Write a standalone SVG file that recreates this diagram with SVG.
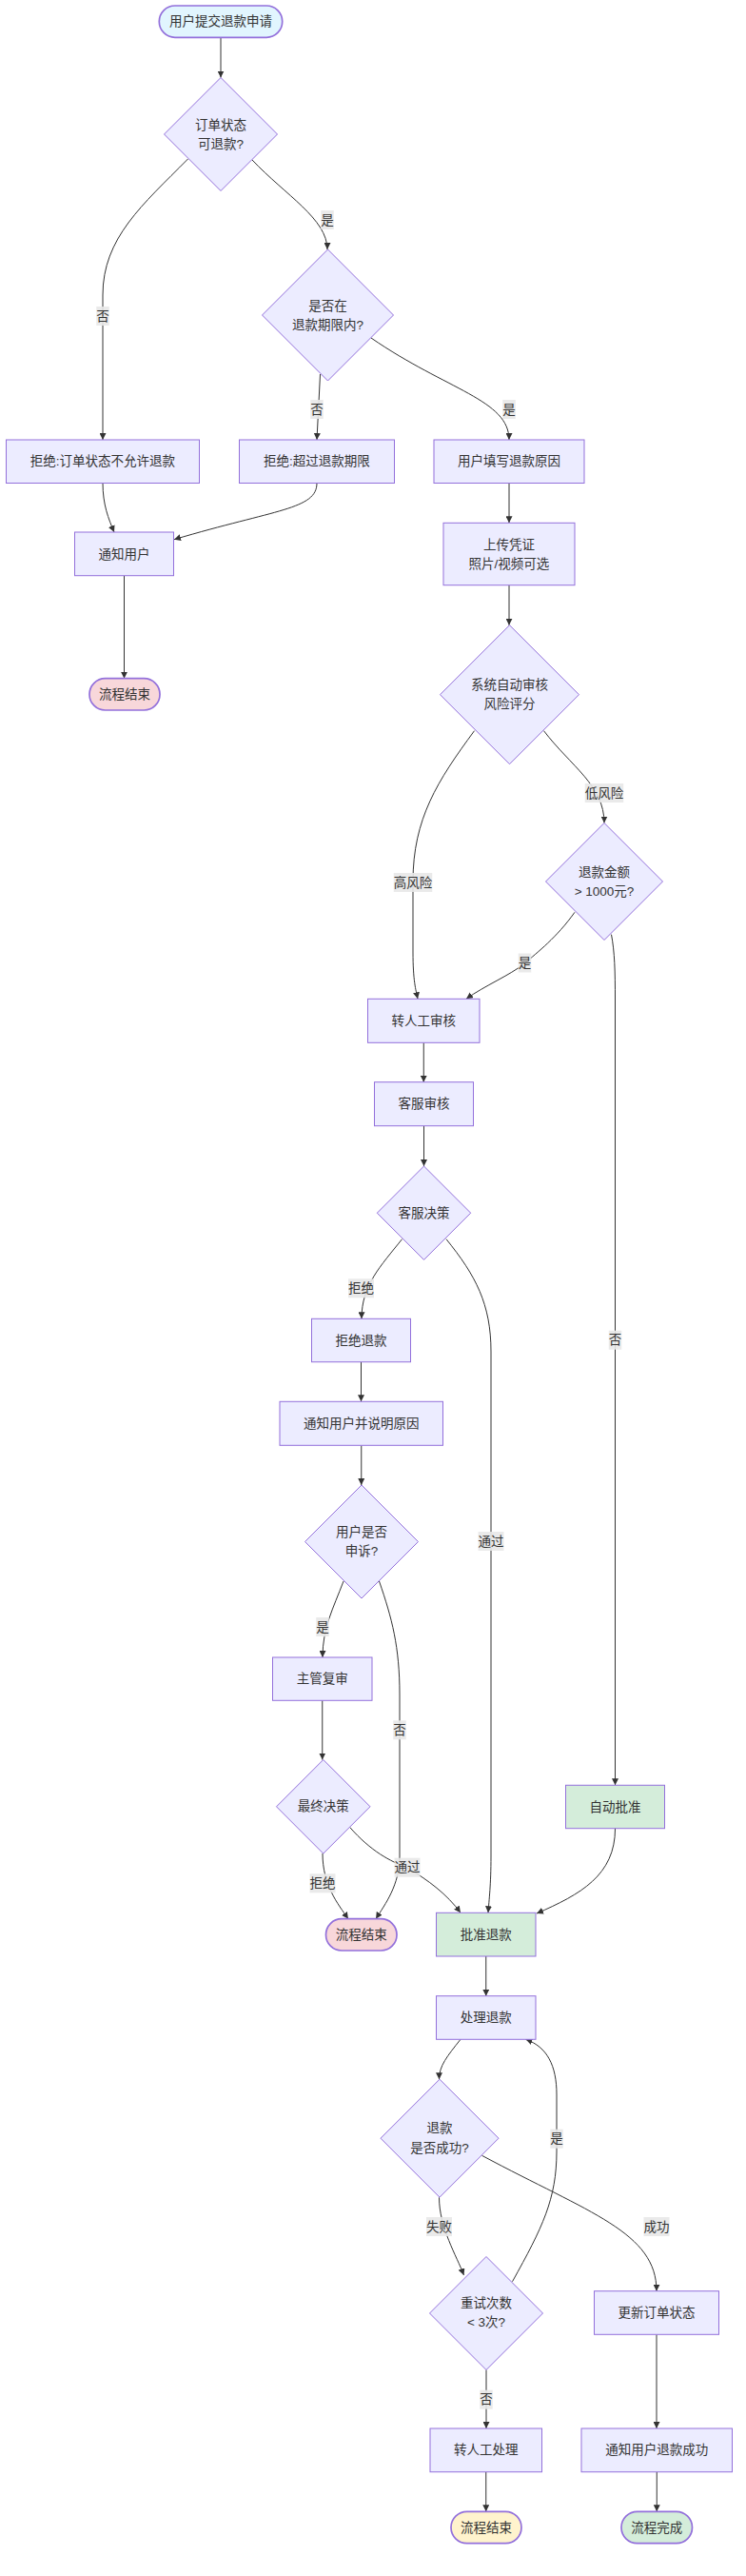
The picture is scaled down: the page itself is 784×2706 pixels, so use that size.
<svg xmlns="http://www.w3.org/2000/svg" width="784" height="2706" viewBox="0 0 784 2706">
<style>
  text { font-family: "Liberation Sans", "Noto Sans CJK SC", sans-serif; font-size: 13.5px; fill: #333; text-anchor: middle; dominant-baseline: central; }
  .box { fill: #ECECFF; stroke: #9370DB; stroke-width: 1; }
  .dia { fill: #ECECFF; stroke: #9370DB; stroke-width: 1; }
  .pill { stroke: #9370DB; stroke-width: 1.7; }
  .start { fill: #e1f5fe; }
  .endr { fill: #f8d7da; }
  .endy { fill: #fff3cd; }
  .endg { fill: #d4edda; }
  .ok { fill: #d4edda; stroke: #9370DB; stroke-width: 1; }
  .edge { fill: none; stroke: #333; stroke-width: 1; marker-end: url(#arrow); }
  .lbl { fill: #e8e8e8; opacity: 0.9; }
</style>
<defs>
  <marker id="arrow" viewBox="0 0 10 10" refX="10" refY="5" markerWidth="7" markerHeight="7" markerUnits="userSpaceOnUse" orient="auto">
    <path d="M0,0 L10,5 L0,10 z" fill="#333"/>
  </marker>
</defs>
<rect width="784" height="2706" fill="#ffffff"/>

<g id="edges">
  <path class="edge" d="M232,39.3 L232,81.5"/>
  <path class="edge" d="M197.5,167 C150,215 108,250 108,310 L108,462"/>
  <path class="edge" d="M265,168 C300,205 344,230 344,262"/>
  <path class="edge" d="M336.5,393 L333,462"/>
  <path class="edge" d="M390,355 C470,410 535,420 535,462"/>
  <path class="edge" d="M108,507.5 C108,530 114,545 120,559"/>
  <path class="edge" d="M333,507.5 C333,535 290,535 183,566.7"/>
  <path class="edge" d="M130.5,604.7 L130.5,712.7"/>
  <path class="edge" d="M535,507.5 L535,549.3"/>
  <path class="edge" d="M535,614.7 L535,656.7"/>
  <path class="edge" d="M571.5,767.7 C600,805 635,825 635,864.5"/>
  <path class="edge" d="M498.5,767.7 C460,820 434,860 434,926 L434,1000 C434,1030 437,1040 439,1049.3"/>
  <path class="edge" d="M604,958.3 C585,985 565,1000 551.5,1012 C535,1025 510,1035 490,1049.3"/>
  <path class="edge" d="M642.5,981.7 C646,1000 646.5,1020 646.5,1050 L646.5,1875.3"/>
  <path class="edge" d="M445.25,1095.3 L445.25,1136.7"/>
  <path class="edge" d="M445.5,1182.7 L445.5,1225"/>
  <path class="edge" d="M422.5,1301.7 C400,1330 380,1350 380,1385.3"/>
  <path class="edge" d="M469,1301.7 C500,1340 516,1370 516,1420 L516,1950 C516,1980 514,1995 513,2009.3"/>
  <path class="edge" d="M379.5,1430.7 L379.5,1472.3"/>
  <path class="edge" d="M379.75,1518.3 L379.75,1560"/>
  <path class="edge" d="M361,1661 C350,1690 339,1710 339,1741"/>
  <path class="edge" d="M398.5,1661 C412,1700 420,1730 420,1780 L420,1950 C420,1980 405,2000 395,2015.7"/>
  <path class="edge" d="M338.75,1786.3 L338.75,1848.5"/>
  <path class="edge" d="M339,1947 C339,1980 355,2000 366,2015.7"/>
  <path class="edge" d="M367.5,1919.3 C390,1945 410,1955 428,1962 C450,1975 470,1990 484,2009.3"/>
  <path class="edge" d="M646.5,1920.7 C646.5,1970 610,1990 564,2010"/>
  <path class="edge" d="M510.75,2055 L510.75,2096.7"/>
  <path class="edge" d="M484,2142.3 C470,2160 461.5,2170 461.5,2184.2"/>
  <path class="edge" d="M461.5,2308.2 C461.5,2340 480,2370 487.5,2390"/>
  <path class="edge" d="M506.5,2264.3 C620,2325 690,2345 690,2406.7"/>
  <path class="edge" d="M538.5,2396.7 C570,2340 585,2310 585,2260 L585,2200 C585,2170 575,2150 552.5,2142.3"/>
  <path class="edge" d="M511,2489.5 L511,2551"/>
  <path class="edge" d="M690,2452.3 L690,2551"/>
  <path class="edge" d="M510.75,2596.7 L510.75,2638.3"/>
  <path class="edge" d="M690.25,2596.7 L690.25,2638.3"/>
</g>

<g id="edge-labels">
  <rect class="lbl" x="101.25" y="322" width="13.5" height="20"/><text x="108" y="332">否</text>
  <rect class="lbl" x="337.25" y="221" width="13.5" height="20"/><text x="344" y="231">是</text>
  <rect class="lbl" x="326.25" y="420" width="13.5" height="20"/><text x="333" y="430">否</text>
  <rect class="lbl" x="528.25" y="420" width="13.5" height="20"/><text x="535" y="430">是</text>
  <rect class="lbl" x="614.75" y="823" width="40.5" height="20"/><text x="635" y="833">低风险</text>
  <rect class="lbl" x="413.75" y="917" width="40.5" height="20"/><text x="434" y="927">高风险</text>
  <rect class="lbl" x="544.75" y="1001.5" width="13.5" height="20"/><text x="551.5" y="1011.5">是</text>
  <rect class="lbl" x="639.75" y="1397.7" width="13.5" height="20"/><text x="646.5" y="1407.7">否</text>
  <rect class="lbl" x="366" y="1343.3" width="27" height="20"/><text x="379.5" y="1353.3">拒绝</text>
  <rect class="lbl" x="502.5" y="1609" width="27" height="20"/><text x="516" y="1619">通过</text>
  <rect class="lbl" x="332.25" y="1699" width="13.5" height="20"/><text x="339" y="1709">是</text>
  <rect class="lbl" x="413.25" y="1807.3" width="13.5" height="20"/><text x="420" y="1817.3">否</text>
  <rect class="lbl" x="325.5" y="1968.3" width="27" height="20"/><text x="339" y="1978.3">拒绝</text>
  <rect class="lbl" x="414.5" y="1951.7" width="27" height="20"/><text x="428" y="1961.7">通过</text>
  <rect class="lbl" x="578.25" y="2236.7" width="13.5" height="20"/><text x="585" y="2246.7">是</text>
  <rect class="lbl" x="448" y="2329" width="27" height="20"/><text x="461.5" y="2339">失败</text>
  <rect class="lbl" x="676.5" y="2329" width="27" height="20"/><text x="690" y="2339">成功</text>
  <rect class="lbl" x="504.25" y="2510.7" width="13.5" height="20"/><text x="511" y="2520.7">否</text>
</g>

<g id="n-start"><rect class="pill start" x="167.3" y="6" width="129.4" height="33.3" rx="16.6"/><text x="232" y="22.7">用户提交退款申请</text></g>
<g id="n-check-status"><polygon class="dia" points="232,81.5 291.5,141 232,200.5 172.5,141"/><text x="232" y="131">订单状态</text><text x="232" y="151">可退款?</text></g>
<g id="n-check-period"><polygon class="dia" points="344.5,262 413.5,331 344.5,400 275.5,331"/><text x="344.5" y="321">是否在</text><text x="344.5" y="341">退款期限内?</text></g>
<g id="n-reject-status"><rect class="box" x="6.5" y="462" width="203" height="45.5"/><text x="108" y="484.7">拒绝:订单状态不允许退款</text></g>
<g id="n-reject-period"><rect class="box" x="251.5" y="462" width="163" height="45.5"/><text x="333" y="484.7">拒绝:超过退款期限</text></g>
<g id="n-fill-reason"><rect class="box" x="456" y="462" width="158" height="45.5"/><text x="535" y="484.7">用户填写退款原因</text></g>
<g id="n-notify"><rect class="box" x="78.5" y="559" width="104" height="45.7"/><text x="130.5" y="582">通知用户</text></g>
<g id="n-end1"><rect class="pill endr" x="94" y="712.7" width="74" height="33.3" rx="16.6"/><text x="131" y="729.4">流程结束</text></g>
<g id="n-upload"><rect class="box" x="466" y="549.3" width="138" height="65.4"/><text x="535" y="572">上传凭证</text><text x="535" y="592">照片/视频可选</text></g>
<g id="n-auto-review"><polygon class="dia" points="535.5,656.7 608.5,729.7 535.5,802.7 462.5,729.7"/><text x="535.5" y="719.7">系统自动审核</text><text x="535.5" y="739.7">风险评分</text></g>
<g id="n-amount"><polygon class="dia" points="635,864.5 696.5,926 635,987.5 573.5,926"/><text x="635" y="916">退款金额</text><text x="635" y="936">&gt; 1000元?</text></g>
<g id="n-manual"><rect class="box" x="386.5" y="1049.3" width="117.5" height="46"/><text x="445.25" y="1072.3">转人工审核</text></g>
<g id="n-cs-review"><rect class="box" x="393.5" y="1136.7" width="104" height="46"/><text x="445.5" y="1159.7">客服审核</text></g>
<g id="n-cs-decision"><polygon class="dia" points="445.5,1225 494.7,1274.2 445.5,1323.4 396.3,1274.2"/><text x="445.5" y="1274.2">客服决策</text></g>
<g id="n-reject"><rect class="box" x="327.5" y="1385.3" width="104" height="45.4"/><text x="379.5" y="1408">拒绝退款</text></g>
<g id="n-notify-reason"><rect class="box" x="294" y="1472.3" width="171.5" height="46"/><text x="379.75" y="1495.3">通知用户并说明原因</text></g>
<g id="n-appeal"><polygon class="dia" points="380,1560 439.5,1619.5 380,1679 320.5,1619.5"/><text x="380" y="1609.5">用户是否</text><text x="380" y="1629.5">申诉?</text></g>
<g id="n-supervisor"><rect class="box" x="286.5" y="1741" width="104.5" height="45.3"/><text x="338.75" y="1763.7">主管复审</text></g>
<g id="n-final"><polygon class="dia" points="339.75,1848.5 389,1897.8 339.75,1947.1 290.5,1897.8"/><text x="339.75" y="1897.8">最终决策</text></g>
<g id="n-end2"><rect class="pill endr" x="342.5" y="2015.7" width="74.5" height="33.3" rx="16.6"/><text x="379.75" y="2032.4">流程结束</text></g>
<g id="n-auto-approve"><rect class="ok" x="594.5" y="1875.3" width="104" height="45.4"/><text x="646.5" y="1898">自动批准</text></g>
<g id="n-approve"><rect class="ok" x="458.5" y="2009.3" width="104.5" height="45.7"/><text x="510.75" y="2032.2">批准退款</text></g>
<g id="n-process"><rect class="box" x="458.5" y="2096.7" width="104.5" height="45.6"/><text x="510.75" y="2119.5">处理退款</text></g>
<g id="n-success"><polygon class="dia" points="462,2184.2 524,2246.2 462,2308.2 400,2246.2"/><text x="462" y="2235.5">退款</text><text x="462" y="2256.5">是否成功?</text></g>
<g id="n-retry"><polygon class="dia" points="511,2370.5 570.5,2430 511,2489.5 451.5,2430"/><text x="511" y="2419.5">重试次数</text><text x="511" y="2439.5">&lt; 3次?</text></g>
<g id="n-update"><rect class="box" x="624.5" y="2406.7" width="131" height="45.6"/><text x="690" y="2429.5">更新订单状态</text></g>
<g id="n-manual2"><rect class="box" x="452" y="2551" width="117.5" height="45.7"/><text x="510.75" y="2573.8">转人工处理</text></g>
<g id="n-notify-success"><rect class="box" x="611" y="2551" width="158.5" height="45.7"/><text x="690.25" y="2573.8">通知用户退款成功</text></g>
<g id="n-end3"><rect class="pill endy" x="474" y="2638.3" width="74" height="33.4" rx="16.7"/><text x="511" y="2655">流程结束</text></g>
<g id="n-done"><rect class="pill endg" x="653" y="2638.3" width="74.5" height="33.4" rx="16.7"/><text x="690.25" y="2655">流程完成</text></g>
</svg>
